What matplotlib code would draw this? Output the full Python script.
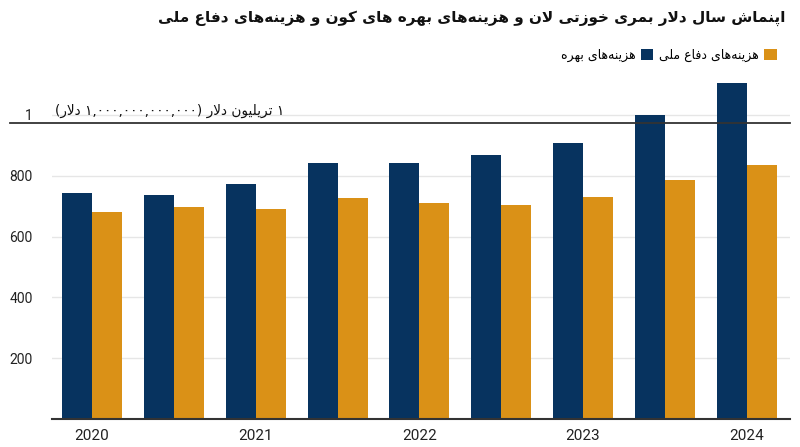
import re
import numpy as np
import matplotlib
matplotlib.use('Agg')
import matplotlib.pyplot as plt
from matplotlib.transforms import blended_transform_factory

# data (billions of dollars), two bars per half-year
periods = ['2020', '2020b', '2021', '2021b', '2022', '2022b', '2023', '2023b', '2024']
interest = [742, 737, 773, 842, 842, 867, 907, 999, 1104]
defense = [681, 697, 690, 727, 711, 705, 729, 787, 836]
year_ticks = [0, 2, 4, 6, 8]
year_labels = ['2020', '2021', '2022', '2023', '2024']
y_ticks = [200, 400, 600, 800, 1000]
y_labels = ['200', '400', '600', '800', '1']
trillion_level = 975

title = 'اپنماش سال دلار بمری خوزتی لان و هزینه\u200cهای بهره های کون و هزینه\u200cهای دفاع ملی'
interest_label = 'هزینه\u200cهای بهره'
defense_label = 'هزینه\u200cهای دفاع ملی'
trillion_note = '۱ تریلیون دلار (۱,۰۰۰,۰۰۰,۰۰۰,۰۰۰ دلار)'

navy = '#07335f'
orange = '#da9117'

# minimal arabic/persian shaping since matplotlib has none
FORMS = {
    'ا': ('\uFE8D', '\uFE8E', None, None),
    'ب': ('\uFE8F', '\uFE90', '\uFE91', '\uFE92'),
    'پ': ('\uFB56', '\uFB57', '\uFB58', '\uFB59'),
    'ت': ('\uFE95', '\uFE96', '\uFE97', '\uFE98'),
    'خ': ('\uFEA5', '\uFEA6', '\uFEA7', '\uFEA8'),
    'د': ('\uFEA9', '\uFEAA', None, None),
    'ر': ('\uFEAD', '\uFEAE', None, None),
    'ز': ('\uFEAF', '\uFEB0', None, None),
    'س': ('\uFEB1', '\uFEB2', '\uFEB3', '\uFEB4'),
    'ش': ('\uFEB5', '\uFEB6', '\uFEB7', '\uFEB8'),
    'ع': ('\uFEC9', '\uFECA', '\uFECB', '\uFECC'),
    'ف': ('\uFED1', '\uFED2', '\uFED3', '\uFED4'),
    'ک': ('\uFB8E', '\uFB8F', '\uFB90', '\uFB91'),
    'ل': ('\uFEDD', '\uFEDE', '\uFEDF', '\uFEE0'),
    'م': ('\uFEE1', '\uFEE2', '\uFEE3', '\uFEE4'),
    'ن': ('\uFEE5', '\uFEE6', '\uFEE7', '\uFEE8'),
    'ه': ('\uFEE9', '\uFEEA', '\uFEEB', '\uFEEC'),
    'و': ('\uFEED', '\uFEEE', None, None),
    'ی': ('\uFBFC', '\uFBFD', '\uFBFE', '\uFBFF'),
}


def dual(c):
    return c in FORMS and FORMS[c][2] is not None


def shape(text):
    out = []
    i = 0
    n = len(text)
    while i < n:
        c = text[i]
        if c not in FORMS:
            if c != '\u200c':
                out.append(c)
            i += 1
            continue
        pj = i > 0 and dual(text[i - 1])
        if c == 'ل' and i + 1 < n and text[i + 1] == 'ا':
            out.append('\uFEFC' if pj else '\uFEFB')
            i += 2
            continue
        nj = i + 1 < n and text[i + 1] in FORMS and dual(c)
        iso, fin, ini, med = FORMS[c]
        if pj and nj:
            out.append(med)
        elif pj:
            out.append(fin)
        elif nj:
            out.append(ini)
        else:
            out.append(iso)
        i += 1
    return ''.join(out)


def rtl(text):
    tokens = re.findall(r'[0-9۰-۹][0-9۰-۹,]*|.', shape(text))
    tokens.reverse()
    mirror = {'(': ')', ')': '('}
    return ''.join(mirror.get(t, t) for t in tokens)


ar_font = ['DejaVu Sans']
plt.rcParams['font.family'] = ['Roboto', 'DejaVu Sans']

fig = plt.figure(figsize=(8, 4.47), dpi=100)
ax = fig.add_axes([0.065, 0.0626, 0.9225, 0.772])

x = np.arange(len(periods))
w = 0.367
ax.bar(x - w / 2, interest, w, color=navy, label=rtl(interest_label), zorder=2)
ax.bar(x + w / 2, defense, w, color=orange, label=rtl(defense_label), zorder=2)

ax.set_xlim(-0.49, 8.53)
ax.set_ylim(0, 1135)
ax.set_yticks(y_ticks)
ax.set_yticklabels(y_labels)
ax.set_xticks(year_ticks)
ax.set_xticklabels(year_labels)
ax.tick_params(axis='y', length=0, pad=14, labelsize=10, labelcolor='#222222')
ax.tick_params(axis='x', length=0, pad=7, labelsize=11, labelcolor='#222222')
ax.grid(axis='y', color='#e6e6e6', lw=1, zorder=0)
for s in ['top', 'right', 'left']:
    ax.spines[s].set_visible(False)
ax.spines['bottom'].set_color('#333333')
ax.spines['bottom'].set_linewidth(1.5)
ax.spines['bottom'].set_zorder(3)

# 1 trillion reference line, running past the left edge
tr = blended_transform_factory(fig.transFigure, ax.transData)
ax.plot([10 / 800, 790 / 800], [trillion_level, trillion_level], transform=tr,
        color='#333333', lw=1.3, clip_on=False, zorder=4)
ax.text(55 / 800, 1015, rtl(trillion_note), transform=tr, ha='left', va='center',
        fontsize=9.8, family=ar_font, color='#111111')

fig.text(0.982, 1 - 18 / 447, rtl(title), ha='right', va='center',
         fontsize=11, fontweight='bold', family=ar_font, color='#111111')

fig.legend(loc='center right', bbox_to_anchor=(0.985, 1 - 55 / 447), ncol=2,
           frameon=False, markerfirst=False, handlelength=1.0, handleheight=1.0,
           handletextpad=0.4, columnspacing=0.5, prop={'family': ar_font, 'size': 9})

fig.savefig('out.png', dpi=100)
